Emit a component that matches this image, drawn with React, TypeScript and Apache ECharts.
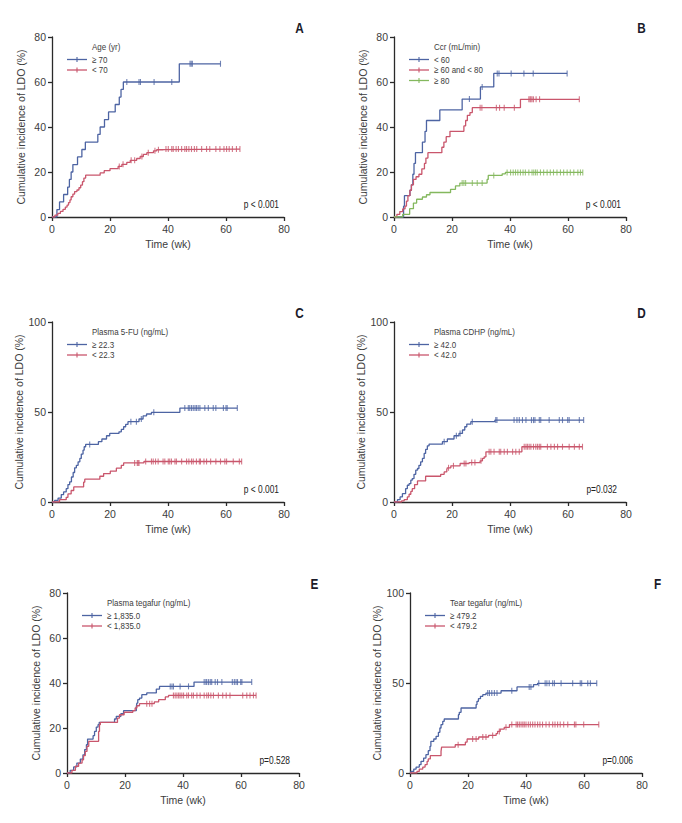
import React, { useEffect, useRef } from "react";
import * as echarts from "echarts";

// ---------- DATA ----------
const X_TICKS_MAX = 80;
const X_INTERVAL = 20;
const X_NAME = "Time (wk)";
const Y_NAME = "Cumulative incidence of LDO (%)";

// Panel A – Age (yr)
const A_TITLE = "Age (yr)";
const A_P = "p < 0.001";
const A_NAMES = ["\u2265 70", "< 70"];
const A_GE70: number[][] = [[0,0],[1.7,3.3],[2.6,6.7],[4.0,10],[5.4,13.3],[6.0,16.7],[6.6,20],[7.2,23.3],[8.8,26.7],[10.3,30],[11.5,33.3],[15.8,36.7],[16.6,40],[18.1,43.3],[19.5,46.7],[21.8,50],[23.2,53.3],[23.8,56.7],[24.6,60],[43.9,68.1]];
const A_GE70_CENS = [25.8,30.0,30.5,35.2,41.3,47.6,48.0,48.4,58.1];
const A_LT70: number[][] = [[0,0],[1.0,0.8],[2.0,1.6],[2.9,2.5],[3.8,3.4],[4.6,4.4],[5.2,5.3],[5.7,6.4],[6.2,7.6],[6.6,9.0],[7.2,10.2],[7.8,11.3],[8.6,12.0],[9.3,13.0],[9.9,14.2],[10.5,15.7],[11.0,17.3],[11.6,18.6],[16.6,19.6],[18.0,20.6],[20.0,21.5],[22.8,22.5],[24.1,23.4],[25.8,24.3],[27.0,25.2],[29.2,26.0],[30.4,26.9],[31.5,27.8],[32.7,28.6],[35.0,29.4],[36.1,29.9],[38.4,30.2]];
const A_LT70_CENS = [23.2,24.5,27.3,28.5,31.0,33.2,35.5,36.7,39.3,40.1,41.3,41.8,42.8,43.6,44.7,45.8,46.4,47.2,48.1,49.1,49.9,51.6,53.3,54.4,56.5,57.9,59.3,60.2,61.1,62.2,63.6,64.8];

// Panel B – Ccr (mL/min)
const B_TITLE = "Ccr (mL/min)";
const B_P = "p < 0.001";
const B_NAMES = ["< 60", "\u2265 60 and < 80", "\u2265 80"];
const B_LT60: number[][] = [[0,0],[3.3,4.8],[3.6,9.5],[5.5,11.9],[6.0,14.3],[6.5,19.0],[6.9,23.8],[7.4,28.6],[9.8,33.3],[10.7,38.1],[11.2,42.9],[15.8,47.6],[23.5,52.4],[29.8,57.8],[34.4,63.8]];
const B_LT60_CENS = [26.0,30.4,35.6,36.2,40.4,44.8,48.0,59.7];
const B_MID: number[][] = [[0,0],[1.0,1.2],[2.0,2.4],[3.0,3.6],[3.8,4.8],[4.3,7.1],[4.8,9.5],[5.5,11.9],[6.0,14.3],[6.7,16.7],[7.6,17.9],[8.6,19.0],[9.6,21.4],[10.5,23.8],[11.0,26.2],[11.7,28.6],[16.5,31.0],[17.2,33.3],[18.0,35.7],[19.3,38.1],[24.1,40.5],[24.7,42.9],[25.3,45.2],[26.2,46.4],[27.0,48.6],[43.6,52.3]];
const B_MID_CENS = [29.7,30.3,35.3,36.4,38.0,41.5,46.5,46.9,47.2,47.6,48.1,49.0,50.2,63.9];
const B_GE80: number[][] = [[0,0],[3.0,1.2],[5.4,3.7],[6.7,6.2],[7.8,7.9],[9.8,8.9],[11.2,9.9],[12.4,10.9],[19.5,12.3],[21.2,13.8],[22.7,15.1],[32.1,16.7],[32.5,18.5],[37.3,19.2],[38.4,19.8]];
const B_GE80_CENS = [23.5,24.1,24.7,27.0,28.7,30.4,34.4,39.0,40.2,41.1,41.9,42.7,43.6,44.5,45.3,46.5,47.6,48.2,48.8,49.4,50.5,51.6,52.8,53.9,55.0,56.2,57.4,58.5,59.7,60.8,62.0,63.4,64.3,65.1];

// Panel C – Plasma 5-FU (ng/mL)
const C_TITLE = "Plasma 5-FU (ng/mL)";
const C_P = "p < 0.001";
const C_NAMES = ["\u2265 22.3", "< 22.3"];
const C_HIGH: number[][] = [[0,0],[0.9,0.9],[2.1,2.2],[3.2,4.1],[4.0,5.6],[4.9,7.4],[5.5,9.7],[6.1,11.2],[6.7,13.9],[7.3,16.4],[7.8,19.0],[8.4,20.4],[9.0,22.3],[9.6,24.2],[10.1,26.6],[10.7,28.8],[11.1,30.7],[11.6,32.0],[16.0,33.5],[17.2,35.0],[18.8,36.8],[19.9,38.1],[23.1,39.0],[23.9,40.3],[24.7,41.8],[25.4,43.1],[26.2,44.6],[30.0,46.1],[31.4,47.8],[32.6,48.9],[34.3,49.8],[44.1,52.2]];
const C_HIGH_CENS = [13.0,27.2,29.1,30.8,35.1,45.8,47.0,47.5,48.1,48.7,49.3,49.8,50.4,51.0,52.7,53.9,55.6,56.5,59.1,60.0,60.4,63.9];
const C_LOW: number[][] = [[0,0],[2.6,1.3],[4.9,2.6],[5.5,4.5],[6.6,6.4],[7.5,8.4],[10.9,11.0],[11.3,12.7],[16.5,14.3],[17.8,15.8],[20.1,17.1],[22.2,18.8],[23.9,20.4],[24.7,21.7],[31.7,22.5]];
const C_LOW_CENS = [28.5,29.4,29.7,30.0,32.3,34.3,34.9,35.7,36.6,38.3,38.9,40.1,40.6,41.2,42.4,42.9,44.7,46.4,47.2,48.1,48.7,49.8,50.8,51.2,52.4,53.3,54.7,56.5,58.1,59.6,60.2,62.5,64.6,65.4];

// Panel D – Plasma CDHP (ng/mL)
const D_TITLE = "Plasma CDHP (ng/mL)";
const D_P = "p=0.032";
const D_NAMES = ["\u2265 42.0", "< 42.0"];
const D_HIGH: number[][] = [[0,0],[1.2,1.3],[2.1,2.8],[2.9,4.6],[4.0,7.4],[4.6,9.3],[5.2,10.2],[5.8,12.1],[6.3,13.0],[6.9,15.4],[7.5,17.7],[8.1,18.6],[8.6,20.4],[9.2,22.3],[9.8,24.2],[10.4,27.0],[10.9,29.2],[11.5,31.2],[12.1,32.2],[16.7,33.5],[18.4,35.0],[20.7,36.8],[22.4,38.1],[23.6,40.0],[24.4,41.8],[25.1,43.3],[26.5,44.6],[34.8,45.5]];
const D_HIGH_CENS = [17.3,21.5,22.8,27.0,35.1,35.5,41.4,42.4,43.2,44.3,45.5,47.4,48.1,48.6,50.1,50.6,53.5,57.0,58.1,59.9,60.4,63.9,65.4];
const D_LOW: number[][] = [[0,0],[2.6,0.6],[3.5,1.3],[4.6,2.8],[5.2,4.3],[5.8,5.9],[6.3,7.4],[7.1,9.7],[8.1,11.7],[10.9,14.3],[16.1,15.4],[17.3,16.7],[18.2,18.0],[18.4,19.0],[19.6,20.1],[22.8,21.4],[25.9,21.9],[29.7,22.9],[30.5,24.2],[31.1,25.1],[31.7,27.9],[44.1,30.7]];
const D_LOW_CENS = [18.8,20.5,24.2,24.8,26.8,27.9,30.0,32.8,33.4,34.5,36.3,36.8,38.0,39.1,40.9,42.0,43.2,44.9,45.5,46.0,46.6,47.2,48.1,48.9,49.5,50.1,50.6,52.9,54.1,55.3,56.4,58.1,60.4,62.2,63.9,65.0];

// Panel E – Plasma tegafur (ng/mL)
const E_TITLE = "Plasma tegafur (ng/mL)";
const E_P = "p=0.528";
const E_NAMES = ["\u2265 1,835.0", "< 1,835.0"];
const E_HIGH: number[][] = [[0,0],[1.1,1.2],[2.3,2.7],[3.4,4.4],[4.6,6.2],[5.5,8.1],[6.1,10.4],[6.7,12.6],[7.1,15.1],[9.0,16.6],[9.5,18.5],[10.1,20.4],[10.7,21.5],[11.1,22.5],[16.4,24.0],[17.0,25.2],[18.6,26.4],[19.5,27.7],[23.9,29.3],[24.1,31.1],[24.4,32.6],[25.0,33.3],[25.8,34.8],[27.5,35.6],[30.8,37.3],[31.9,38.5],[43.8,40.4]];
const E_HIGH_CENS = [35.6,36.2,36.7,39.0,41.9,47.3,47.9,48.2,48.8,49.4,49.9,51.1,51.9,53.4,57.0,57.7,58.3,58.8,59.9,60.3,63.7];
const E_LOW: number[][] = [[0,0],[1.7,1.2],[2.9,3.0],[4.0,4.4],[5.2,5.9],[5.7,7.7],[6.3,9.6],[6.9,11.9],[7.5,14.1],[10.9,18.5],[11.2,21.5],[11.5,22.5],[17.4,24.4],[18.1,25.9],[19.7,27.0],[22.7,27.7],[23.5,28.9],[24.1,29.9],[25.0,30.8],[30.1,31.6],[31.6,32.6],[33.9,33.8],[35.0,34.5]];
const E_LOW_CENS = [27.5,28.5,29.3,36.7,37.3,37.9,38.5,39.0,39.6,40.2,41.3,41.9,43.0,43.6,44.8,45.9,47.3,48.2,48.8,49.6,50.5,52.2,53.7,54.9,56.2,60.6,62.0,63.1,64.3,65.2];

// Panel F – Tear tegafur (ng/mL)
const F_TITLE = "Tear tegafur (ng/mL)";
const F_P = "p=0.006";
const F_NAMES = ["\u2265 479.2", "< 479.2"];
const F_HIGH: number[][] = [[0,0],[0.3,0.9],[1.3,2.2],[2.1,3.3],[3.2,4.6],[3.8,6.5],[4.7,8.3],[5.5,10.2],[6.3,12.4],[6.9,14.8],[7.2,17.6],[8.2,18.9],[9.0,20.4],[9.8,22.6],[10.3,25.0],[10.7,26.9],[11.3,28.7],[11.8,30.0],[16.7,32.4],[17.0,33.7],[17.6,36.1],[22.8,38.0],[23.1,39.8],[23.6,41.3],[24.3,42.6],[25.1,43.5],[26.2,44.4],[31.4,45.7],[36.9,47.8],[42.6,49.1],[44.0,49.8]];
const F_HIGH_CENS = [26.8,27.4,28.2,29.1,30.0,35.1,41.1,41.7,44.4,46.6,47.2,48.0,49.2,49.8,52.1,56.1,58.7,59.2,61.3,62.2,64.4];
const F_LOW: number[][] = [[0,0],[2.4,0.9],[3.2,2.2],[4.4,3.3],[5.2,4.6],[5.9,6.5],[6.3,7.8],[7.0,9.6],[10.7,12.0],[10.9,14.4],[15.6,15.7],[19.1,17.2],[19.7,18.9],[23.7,20.0],[27.1,20.9],[29.7,21.9],[30.2,23.1],[31.1,24.4],[32.5,25.4],[34.3,26.9]];
const F_LOW_CENS = [16.6,21.6,22.8,25.1,26.2,28.5,30.8,33.1,35.1,36.6,37.1,37.7,38.3,38.9,39.4,40.0,40.8,41.5,42.3,43.1,44.0,44.8,45.7,46.9,48.0,49.2,50.0,50.9,51.8,53.0,54.4,56.7,57.2,59.9,65.1];

// ---------- STYLE / LAYOUT ----------
const BLUE = "#4d64a3";
const RED = "#c9566c";
const GREEN = "#84b85e";
const AXIS = "#2a2a2a";
const TXT = "#3c3c3c";
const FONT = '"Liberation Sans", Arial, sans-serif';
const BOLD_FONT = '"Liberation Sans", Arial, sans-serif';
const NARROW = 0.84;

type Curve = { name: string; color: string; steps: number[][]; cens: number[] };
type Panel = {
  letter: string; title: string; p: string; yMax: number; yInt: number;
  grid: { left: number; top: number; width: number; height: number };
  curves: Curve[];
};

const PANELS: Panel[] = [
  { letter: "A", title: A_TITLE, p: A_P, yMax: 80, yInt: 20,
    grid: { left: 52, top: 37, width: 232, height: 180 },
    curves: [
      { name: A_NAMES[0], color: BLUE, steps: A_GE70, cens: A_GE70_CENS },
      { name: A_NAMES[1], color: RED, steps: A_LT70, cens: A_LT70_CENS },
    ] },
  { letter: "B", title: B_TITLE, p: B_P, yMax: 80, yInt: 20,
    grid: { left: 394, top: 37, width: 232, height: 180 },
    curves: [
      { name: B_NAMES[0], color: BLUE, steps: B_LT60, cens: B_LT60_CENS },
      { name: B_NAMES[1], color: RED, steps: B_MID, cens: B_MID_CENS },
      { name: B_NAMES[2], color: GREEN, steps: B_GE80, cens: B_GE80_CENS },
    ] },
  { letter: "C", title: C_TITLE, p: C_P, yMax: 100, yInt: 50,
    grid: { left: 52, top: 322, width: 232, height: 180 },
    curves: [
      { name: C_NAMES[0], color: BLUE, steps: C_HIGH, cens: C_HIGH_CENS },
      { name: C_NAMES[1], color: RED, steps: C_LOW, cens: C_LOW_CENS },
    ] },
  { letter: "D", title: D_TITLE, p: D_P, yMax: 100, yInt: 50,
    grid: { left: 394, top: 322, width: 232, height: 180 },
    curves: [
      { name: D_NAMES[0], color: BLUE, steps: D_HIGH, cens: D_HIGH_CENS },
      { name: D_NAMES[1], color: RED, steps: D_LOW, cens: D_LOW_CENS },
    ] },
  { letter: "E", title: E_TITLE, p: E_P, yMax: 80, yInt: 20,
    grid: { left: 67, top: 593, width: 232, height: 180 },
    curves: [
      { name: E_NAMES[0], color: BLUE, steps: E_HIGH, cens: E_HIGH_CENS },
      { name: E_NAMES[1], color: RED, steps: E_LOW, cens: E_LOW_CENS },
    ] },
  { letter: "F", title: F_TITLE, p: F_P, yMax: 100, yInt: 50,
    grid: { left: 410, top: 593, width: 232, height: 180 },
    curves: [
      { name: F_NAMES[0], color: BLUE, steps: F_HIGH, cens: F_HIGH_CENS },
      { name: F_NAMES[1], color: RED, steps: F_LOW, cens: F_LOW_CENS },
    ] },
];

function valueAt(steps: number[][], t: number): number {
  let v = 0;
  for (const [st, sv] of steps) if (st <= t) v = sv;
  return v;
}

function narrowText(x: number, y: number, text: string, size: number, align: string, color: string, weight = "normal") {
  return {
    type: "text", x, y, scaleX: NARROW, silent: true,
    style: { text, fill: color, font: `${weight} ${size}px ${FONT}`, textVerticalAlign: "middle", textAlign: align },
  };
}

function buildOption() {
  const grids: any[] = [];
  const xAxes: any[] = [];
  const yAxes: any[] = [];
  const series: any[] = [];
  const graphic: any[] = [];

  PANELS.forEach((p, i) => {
    const g = p.grid;
    grids.push({ left: g.left, top: g.top, width: g.width, height: g.height });
    xAxes.push({
      gridIndex: i, type: "value", min: 0, max: X_TICKS_MAX, interval: X_INTERVAL,
      axisLine: { show: true, onZero: false, lineStyle: { color: AXIS, width: 1.3 } },
      axisTick: { show: true, length: 4, lineStyle: { color: AXIS, width: 1.3 } },
      axisLabel: { color: TXT, fontSize: 10.5, fontFamily: FONT, margin: 6 },
      splitLine: { show: false },
      name: X_NAME, nameLocation: "middle", nameGap: 21,
      nameTextStyle: { color: TXT, fontSize: 10.5, fontFamily: FONT },
    });
    yAxes.push({
      gridIndex: i, type: "value", min: 0, max: p.yMax, interval: p.yInt,
      axisLine: { show: true, onZero: false, lineStyle: { color: AXIS, width: 1.3 } },
      axisTick: { show: true, length: 4, lineStyle: { color: AXIS, width: 1.3 } },
      axisLabel: { color: TXT, fontSize: 10.5, fontFamily: FONT, margin: 6 },
      splitLine: { show: false },
      name: Y_NAME, nameLocation: "middle", nameGap: 26,
      nameTextStyle: { color: TXT, fontSize: 10.5, fontFamily: FONT },
    });

    p.curves.forEach((c, k) => {
      const last = c.steps[c.steps.length - 1];
      const end = Math.max(last[0], ...c.cens);
      series.push({
        type: "line", name: c.name, xAxisIndex: i, yAxisIndex: i, step: "end",
        data: [...c.steps, [end, last[1]]], showSymbol: false, symbol: "none",
        lineStyle: { color: c.color, width: 1.3 }, silent: true, z: 3 + k,
      });
      series.push({
        type: "scatter", name: c.name + " (censored)", xAxisIndex: i, yAxisIndex: i,
        data: c.cens.map((t) => [t, valueAt(c.steps, t)]),
        symbol: "rect", symbolSize: [1.1, 6], itemStyle: { color: c.color },
        silent: true, z: 3 + k,
      });

      // legend item
      const ly = g.top + 22.5 + k * 10.5;
      graphic.push({ type: "line", shape: { x1: g.left + 15, y1: ly, x2: g.left + 35, y2: ly },
        style: { stroke: c.color, lineWidth: 1.3 }, silent: true });
      graphic.push({ type: "line", shape: { x1: g.left + 25, y1: ly - 2.5, x2: g.left + 25, y2: ly + 2.5 },
        style: { stroke: c.color, lineWidth: 1.1 }, silent: true });
      graphic.push(narrowText(g.left + 40, ly, c.name, 9.5, "left", TXT));
    });

    graphic.push(narrowText(g.left + 40, g.top + 9.5, p.title, 9.5, "left", TXT));
    const pRight = p.p.indexOf(" ") >= 0 ? 5 : 9;
    graphic.push(narrowText(g.left + g.width - pRight, g.top + g.height - 12, p.p, 10, "right", "#222"));
    graphic.push(narrowText(g.left + g.width + 15.5, g.top - 9, p.letter, 14, "center", "#1b1b2a", "bold"));
  });

  return {
    animation: false,
    backgroundColor: "#ffffff",
    grid: grids, xAxis: xAxes, yAxis: yAxes, series, graphic,
  };
}

export default function App() {
  const ref = useRef<HTMLDivElement>(null);
  useEffect(() => {
    document.body.style.margin = "0";
    if (!ref.current) return;
    const chart = echarts.init(ref.current, null, { renderer: "svg" });
    chart.setOption(buildOption() as any);
    return () => chart.dispose();
  }, []);
  return <div ref={ref} style={{ width: 682, height: 823 }} />;
}
